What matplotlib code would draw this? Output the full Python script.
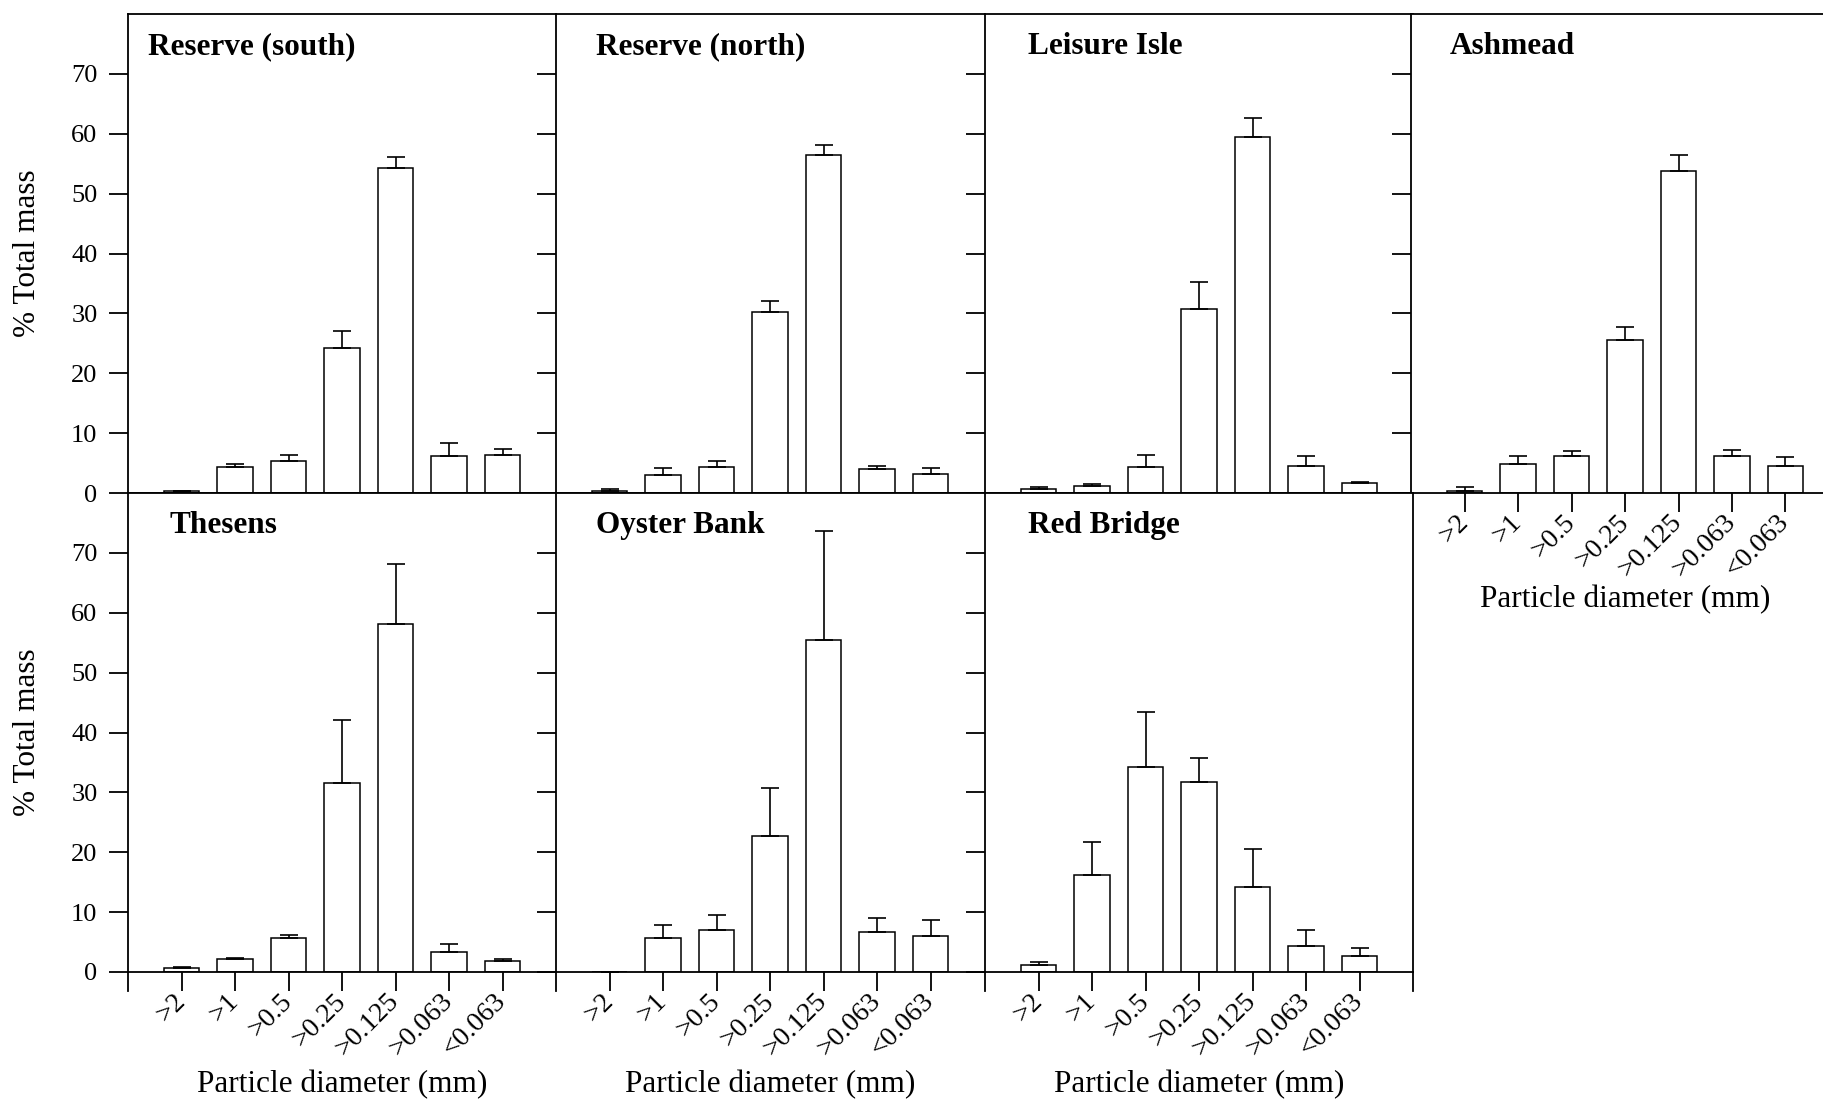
import matplotlib
matplotlib.use('Agg')
import matplotlib.pyplot as plt
from matplotlib.lines import Line2D

plt.rcParams['font.family'] = ['Liberation Serif', 'DejaVu Serif']

categories = ['>2', '>1', '>0.5', '>0.25', '>0.125', '>0.063', '<0.063']
y_ticks = [0, 10, 20, 30, 40, 50, 60, 70]

site_names = ['Reserve (south)', 'Reserve (north)', 'Leisure Isle', 'Ashmead',
              'Thesens', 'Oyster Bank', 'Red Bridge']

reserve_south_mean = [0.3, 4.3, 5.4, 24.3, 54.3, 6.1, 6.4]
reserve_south_err = [0.1, 0.5, 1.0, 2.8, 1.9, 2.3, 0.9]

reserve_north_mean = [0.3, 3.0, 4.4, 30.2, 56.4, 4.0, 3.1]
reserve_north_err = [0.4, 1.1, 0.9, 1.8, 1.7, 0.5, 1.1]

leisure_isle_mean = [0.6, 1.1, 4.3, 30.8, 59.4, 4.5, 1.6]
leisure_isle_err = [0.4, 0.45, 2.0, 4.4, 3.2, 1.7, 0.25]

ashmead_mean = [0.3, 4.8, 6.1, 25.6, 53.8, 6.1, 4.5]
ashmead_err = [0.7, 1.45, 0.85, 2.2, 2.7, 1.1, 1.5]

thesens_mean = [0.6, 2.2, 5.7, 31.5, 58.2, 3.3, 1.9]
thesens_err = [0.2, 0.2, 0.4, 10.6, 9.9, 1.3, 0.2]

oyster_bank_mean = [0.0, 5.6, 7.0, 22.7, 55.4, 6.6, 6.0]
oyster_bank_err = [0.0, 2.3, 2.5, 8.1, 18.2, 2.5, 2.7]

red_bridge_mean = [1.2, 16.2, 34.3, 31.7, 14.2, 4.3, 2.6]
red_bridge_err = [0.4, 5.5, 9.1, 4.0, 6.3, 2.75, 1.4]

means = [reserve_south_mean, reserve_north_mean, leisure_isle_mean, ashmead_mean,
         thesens_mean, oyster_bank_mean, red_bridge_mean]
errs = [reserve_south_err, reserve_north_err, leisure_isle_err, ashmead_err,
        thesens_err, oyster_bank_err, red_bridge_err]

W, H = 1823, 1100
fig = plt.figure(figsize=(W / 100, H / 100), dpi=100)
fig.patch.set_facecolor('white')

col_left = [128, 556, 985, 1411]
row_top = [14, 493]
pw, ph = 428, 479

def rect(lx, ty):
    return [lx / W, 1 - (ty + ph) / H, pw / W, ph / H]

layout = [(0, 0), (0, 1), (0, 2), (0, 3), (1, 0), (1, 1), (1, 2)]
title_x = [0.047, 0.093, 0.10, 0.09, 0.098, 0.093, 0.10]

LW = 1.3
FS_LAB = 22.5
FS_YTICK = 19
FS_XTICK = 20

for i, name in enumerate(site_names):
    r, c = layout[i]
    ax = fig.add_axes(rect(col_left[c], row_top[r]))
    xs = list(range(len(categories)))
    ax.bar(xs, means[i], width=0.67, color='white', edgecolor='black',
           linewidth=1.1, zorder=2)
    lower = [0] * len(categories)
    ax.errorbar(xs, means[i], yerr=[lower, errs[i]], fmt='none', ecolor='black',
                elinewidth=1.2, capsize=6.5, capthick=1.2, zorder=3)
    ax.set_xlim(-1, 7)
    ax.set_ylim(0, 80)
    ax.set_yticks(y_ticks)
    for s in ax.spines.values():
        s.set_linewidth(LW)
    ax.spines['right'].set_visible(False)
    ax.tick_params(axis='y', direction='out', length=14, width=LW, pad=8,
                   labelsize=FS_YTICK)
    if c != 0:
        ax.tick_params(axis='y', labelleft=False)
    else:
        ax.set_ylabel('% Total mass', fontsize=FS_LAB, va='center')
        ax.yaxis.set_label_coords(-100 / pw, 0.5)

    has_x = (r == 1) or (c == 3)
    if has_x:
        ax.set_xticks(xs)
        ax.set_xticklabels(categories, fontsize=FS_XTICK)
        ax.tick_params(axis='x', direction='out', length=13.5, width=LW, pad=5)
        for lab in ax.get_xticklabels():
            lab.set_rotation(45)
            lab.set_ha('right')
            lab.set_va('center')
            lab.set_rotation_mode('anchor')
        ax.set_xlabel('Particle diameter (mm)', fontsize=FS_LAB, va='center')
        ax.xaxis.set_label_coords(0.5, -0.236 if r == 1 else -0.222)
    else:
        ax.set_xticks([])

    if r == 1:
        ax.add_line(Line2D([0, 0], [-19 / ph, 0], transform=ax.transAxes,
                           color='black', lw=LW, clip_on=False))
        if c == 2:
            ax.spines['right'].set_visible(True)
            ax.add_line(Line2D([1, 1], [-19 / ph, 0], transform=ax.transAxes,
                               color='black', lw=LW, clip_on=False))

    ax.text(title_x[i], 0.932, name, transform=ax.transAxes, fontsize=FS_LAB,
            fontweight='bold', ha='left', va='center')

fig.savefig('out.png', dpi=100, facecolor='white')
